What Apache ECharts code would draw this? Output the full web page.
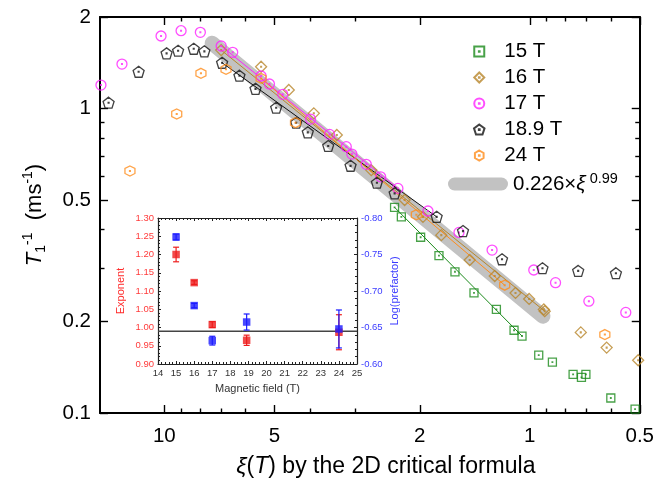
<!DOCTYPE html>
<html><head><meta charset="utf-8">
<script src="https://cdn.jsdelivr.net/npm/echarts@6/dist/echarts.min.js"></script>
<style>html,body{margin:0;padding:0;background:#fff}#c{width:657px;height:483px}</style>
</head><body><div id="c"></div>
<script>
// ---- Main plot data: xi(T) vs 1/T1 (ms^-1) ----
const xi15 = [2.344,2.246,1.989,1.772,1.602,1.421,1.234,1.104,1.050,0.945,0.867,0.761,0.722,0.702,0.600,0.515];
const t15  = [0.474,0.441,0.378,0.329,0.291,0.248,0.219,0.187,0.179,0.155,0.147,0.134,0.131,0.134,0.112,0.103];
const xi16 = [6.99,5.435,4.565,3.899,3.373,2.715,2.200,1.960,1.746,1.460,1.247,1.094,1.004,0.915,0.910,0.725,0.616,0.505];
const t16  = [1.557,1.373,1.151,0.965,0.819,0.628,0.501,0.441,0.384,0.318,0.282,0.248,0.237,0.219,0.216,0.184,0.164,0.149];
const xi17 = [14.91,13.06,10.21,9.00,7.97,6.99,6.50,5.435,5.157,4.742,3.981,3.531,3.178,3.068,2.802,2.559,2.295,1.899,1.562,1.268,0.975,0.850,0.689,0.546];
const t17  = [1.195,1.401,1.732,1.803,1.781,1.606,1.531,1.280,1.205,1.114,0.924,0.823,0.750,0.709,0.656,0.597,0.547,0.461,0.392,0.343,0.295,0.268,0.233,0.214];
const xi189 = [14.21,11.76,9.86,9.17,8.31,7.77,6.95,6.23,5.63,4.943,4.357,4.050,3.561,3.093,2.620,2.343,1.798,1.523,1.191,0.923,0.737,0.581];
const t189  = [1.046,1.322,1.519,1.550,1.573,1.543,1.415,1.283,1.162,1.007,0.899,0.836,0.754,0.649,0.571,0.527,0.441,0.396,0.320,0.299,0.293,0.288];
const xi24 = [12.42,9.25,7.94,6.78,5.435,4.376,2.043,1.171,0.623];
const t24  = [0.624,0.960,1.306,1.346,1.257,0.899,0.448,0.263,0.181];

// fit lines (end points)
const fit15X = [2.344,1.050],  fit15Y = [0.474,0.179];
const fit16X = [6.99,0.910],   fit16Y = [1.557,0.216];
const fit17X = [6.99,2.295],   fit17Y = [1.606,0.547];
const fit189X = [6.95,1.798],  fit189Y = [1.415,0.441];
const fit24X = [5.435,1.171],  fit24Y = [1.257,0.263];
// grey power-law band 0.226*xi^0.99 (end points)
const bandX = [7.4,0.92], bandY = [1.64,0.208];

// tick values
const xMajor = [0.5,1,2,5,10];
const xMinor = [0.6,0.7,0.8,0.9,3,4,6,7,8,9];
const yMajor = [0.1,0.2,0.5,1,2];
const yMinor = [0.3,0.4,0.6,0.7,0.8,0.9];

// ---- Inset data ----
const fields = [15,16,17,18.9,24];
const expo = [1.200,1.123,1.008,0.965,0.987];
const expoErr = [0.020,0.005,0.008,0.014,0.048];
const pref = [-0.774,-0.680,-0.632,-0.6575,-0.648];
const prefErr = [0.004,0.003,0.006,0.011,0.026];
const expoRef = 0.99;

const FF = '"Liberation Sans", Arial, Helvetica, sans-serif';
const L = Math.log10;
const pts = (xs, ys) => xs.map((x, i) => [L(x), L(ys[i])]);
const fmtLog = v => String(+Math.pow(10, v).toPrecision(3));

const dot = ' M-0.07,-0.07L0.07,-0.07L0.07,0.07L-0.07,0.07Z';
const SYM = {
  sq:  'path://M-1,-1L1,-1L1,1L-1,1Z' + dot,
  dia: 'path://M0,-1L1,0L0,1L-1,0Z' + dot,
  cir: 'path://M1,0A1,1 0 1 1 -1,0A1,1 0 1 1 1,0Z' + dot,
  pen: 'path://M0,-1L0.951,-0.309L0.588,0.809L-0.588,0.809L-0.951,-0.309Z M-0.07,-0.16L0.07,-0.16L0.07,-0.02L-0.07,-0.02Z',
  hex: 'path://M0,-1L0.866,-0.5L0.866,0.5L0,1L-0.866,0.5L-0.866,-0.5Z' + dot
};
const C15 = '#1a8a1a', C16 = '#b8862a', C17 = '#ff22ff', C189 = '#111111', C24 = '#ff8c1a';

function scat(name, xs, ys, sym, col, size) {
  return { name, type: 'scatter', xAxisIndex: 0, yAxisIndex: 0, z: 4,
    data: pts(xs, ys), symbol: sym, symbolSize: size,
    itemStyle: { color: 'rgba(0,0,0,0)', borderColor: col, borderWidth: 1.3 },
    emphasis: { disabled: true } };
}
function fitLine(xs, ys, col) {
  return { type: 'line', xAxisIndex: 0, yAxisIndex: 0, z: 3, data: pts(xs, ys),
    symbol: 'none', lineStyle: { color: col, width: 1 }, silent: true };
}
function errSeries(xs, ys, es, yIdx, col, z) {
  return { type: 'custom', xAxisIndex: 4, yAxisIndex: yIdx, z,
    data: xs.map((x, i) => [x, ys[i] - es[i], ys[i] + es[i]]),
    renderItem: (params, api) => {
      const a = api.coord([api.value(0), api.value(1)]);
      const b = api.coord([api.value(0), api.value(2)]);
      const w = 3;
      const st = { stroke: col, lineWidth: 1.2 };
      return { type: 'group', children: [
        { type: 'line', shape: { x1: a[0], y1: a[1], x2: b[0], y2: b[1] }, style: st },
        { type: 'line', shape: { x1: a[0]-w, y1: a[1], x2: a[0]+w, y2: a[1] }, style: st },
        { type: 'line', shape: { x1: b[0]-w, y1: b[1], x2: b[0]+w, y2: b[1] }, style: st }
      ]};
    } };
}

const tickStyle = { color: '#000', width: 1.4 };
const frame = { show: true, onZero: false, lineStyle: { color: '#000', width: 2 } };
const noLine = { show: false, onZero: false };
function mainX(pos, vals, len, labels, line) {
  return { type: 'value', gridIndex: 0, position: pos, inverse: true,
    min: L(0.5), max: L(15), splitLine: { show: false },
    axisLine: line ? frame : noLine,
    axisTick: { show: true, inside: true, length: len, lineStyle: tickStyle, customValues: vals.map(L) },
    axisLabel: labels ? { show: true, customValues: vals.map(L), formatter: fmtLog, fontSize: 20.5, color: '#000', fontFamily: FF, margin: 13 } : { show: false } };
}
function mainY(pos, vals, len, labels, line) {
  return { type: 'value', gridIndex: 0, position: pos,
    min: L(0.1), max: L(2), splitLine: { show: false },
    axisLine: line ? frame : noLine,
    axisTick: { show: true, inside: true, length: len, lineStyle: tickStyle, customValues: vals.map(L) },
    axisLabel: labels ? { show: true, customValues: vals.map(L), formatter: fmtLog, fontSize: 20.5, color: '#000', fontFamily: FF, margin: 9 } : { show: false } };
}
const insetLine = { show: true, onZero: false, lineStyle: { color: '#222', width: 1.2 } };

const xAxes = [
  Object.assign(mainX('bottom', xMajor, 8, true, true), {
    name: '{i|ξ}{n|(}{i|T}{n|) by the 2D critical formula}', nameLocation: 'middle', nameGap: 42,
    nameTextStyle: { padding: [0, 0, 0, 32], rich: {
      i: { fontSize: 23, fontStyle: 'italic', fontFamily: FF },
      n: { fontSize: 23, fontFamily: FF }
    } } }),
  mainX('bottom', xMinor, 4.5, false, false),
  mainX('top', xMajor, 8, false, true),
  mainX('top', xMinor, 4.5, false, false),
  { type: 'value', gridIndex: 1, position: 'bottom', min: 14, max: 25, interval: 1,
    name: 'Magnetic field (T)', nameLocation: 'middle', nameGap: 19,
    nameTextStyle: { fontSize: 11, color: '#333', fontFamily: FF },
    axisLine: insetLine,
    axisTick: { inside: true, length: 3, lineStyle: { color: '#222' } },
    minorTick: { show: true, splitNumber: 5, length: 2, lineStyle: { color: '#222' } },
    axisLabel: { fontSize: 9.5, color: '#333', fontFamily: FF, margin: 4 },
    splitLine: { show: false } },
  { type: 'value', gridIndex: 1, position: 'top', min: 14, max: 25, interval: 1,
    axisLine: insetLine,
    axisTick: { inside: true, length: 3, lineStyle: { color: '#222' } },
    minorTick: { show: true, splitNumber: 5, length: 2, lineStyle: { color: '#222' } },
    axisLabel: { show: false }, splitLine: { show: false } }
];

const yAxes = [
  Object.assign(mainY('left', yMajor, 8, true, true), {
    name: '{t|T}{sub|1}{sup|-1}{n|  (ms}{sup|-1}{n|)}', nameLocation: 'middle', nameGap: 52,
    nameTextStyle: { fontFamily: FF, color: '#000', rich: {
      t: { fontSize: 22, fontStyle: 'italic', lineHeight: 27, fontFamily: FF },
      n: { fontSize: 22, lineHeight: 27, fontFamily: FF },
      sub: { fontSize: 14, lineHeight: 14, verticalAlign: 'bottom', fontFamily: FF },
      sup: { fontSize: 14, lineHeight: 14, verticalAlign: 'top', fontFamily: FF }
    } } }),
  mainY('left', yMinor, 4.5, false, false),
  mainY('right', yMajor, 8, false, true),
  mainY('right', yMinor, 4.5, false, false),
  { type: 'value', gridIndex: 1, position: 'left', min: 0.9, max: 1.3, interval: 0.05,
    name: 'Exponent', nameLocation: 'middle', nameGap: 32,
    nameTextStyle: { fontSize: 11, color: '#ff2a2a', fontFamily: FF },
    axisLine: insetLine,
    axisTick: { inside: true, length: 3, lineStyle: { color: '#222' } },
    minorTick: { show: true, splitNumber: 5, length: 2, lineStyle: { color: '#222' } },
    axisLabel: { fontSize: 9.5, color: '#ff3a3a', fontFamily: FF, margin: 4, formatter: v => v.toFixed(2) },
    splitLine: { show: false } },
  { type: 'value', gridIndex: 1, position: 'right', min: -0.8, max: -0.6, interval: 0.05, inverse: true,
    name: 'Log(prefactor)', nameLocation: 'middle', nameGap: 32, nameRotate: 90,
    nameTextStyle: { fontSize: 11, color: '#3a3aff', fontFamily: FF },
    axisLine: insetLine,
    axisTick: { inside: true, length: 3, lineStyle: { color: '#222' } },
    minorTick: { show: true, splitNumber: 5, length: 2, lineStyle: { color: '#222' } },
    axisLabel: { fontSize: 9.5, color: '#3a3aff', fontFamily: FF, margin: 4, formatter: v => v.toFixed(2) },
    splitLine: { show: false } }
];

const series = [
  { name: 'band', type: 'line', xAxisIndex: 0, yAxisIndex: 0, z: 1, data: pts(bandX, bandY),
    symbol: 'none', lineStyle: { color: '#c2c2c2', width: 15, cap: 'round' }, itemStyle: { color: '#c2c2c2' }, silent: true },
  fitLine(fit15X, fit15Y, C15), fitLine(fit16X, fit16Y, C16), fitLine(fit17X, fit17Y, C17),
  fitLine(fit189X, fit189Y, C189), fitLine(fit24X, fit24Y, C24),
  scat('15 T', xi15, t15, SYM.sq, C15, 8),
  scat('16 T', xi16, t16, SYM.dia, C16, 11),
  scat('17 T', xi17, t17, SYM.cir, C17, 10),
  scat('18.9 T', xi189, t189, SYM.pen, C189, 11),
  scat('24 T', xi24, t24, SYM.hex, C24, 10),
  // inset
  { type: 'line', xAxisIndex: 4, yAxisIndex: 4, z: 2, data: [[14, expoRef], [25, expoRef]],
    symbol: 'none', lineStyle: { color: '#444', width: 1.5 }, silent: true },
  errSeries(fields, expo, expoErr, 4, '#ee1c1c', 3),
  { type: 'scatter', xAxisIndex: 4, yAxisIndex: 4, z: 4, data: fields.map((f, i) => [f, expo[i]]),
    symbol: 'rect', symbolSize: 7.5, itemStyle: { color: '#ee1c1c' } },
  errSeries(fields, pref, prefErr, 5, '#1a1aff', 5),
  { type: 'scatter', xAxisIndex: 4, yAxisIndex: 5, z: 6, data: fields.map((f, i) => [f, pref[i]]),
    symbol: 'rect', symbolSize: 7.5, itemStyle: { color: '#1a1aff' } }
];

const chart = echarts.init(document.getElementById('c'), null, { renderer: 'canvas' });
chart.setOption({
  animation: false,
  backgroundColor: '#fff',
  grid: [
    { left: 100, top: 17, right: 17, bottom: 69 },
    { left: 158, top: 218, width: 199, height: 146, show: true, backgroundColor: '#fff', borderWidth: 0 }
  ],
  xAxis: xAxes,
  yAxis: yAxes,
  legend: [
    { orient: 'vertical', left: 468, top: 36, itemWidth: 40, itemHeight: 10, itemGap: 5,
      selectedMode: false,
      textStyle: { fontSize: 20.5, color: '#000', fontFamily: FF },
      data: [
        { name: '15 T', icon: SYM.sq }, { name: '16 T', icon: SYM.dia }, { name: '17 T', icon: SYM.cir },
        { name: '18.9 T', icon: SYM.pen }, { name: '24 T', icon: SYM.hex }
      ] },
    { orient: 'vertical', left: 443, top: 166, itemWidth: 60, itemHeight: 13, selectedMode: false,
      data: [{ name: 'band', icon: 'path://M6.5,0L53.5,0A6.5,6.5 0 0 1 53.5,13L6.5,13A6.5,6.5 0 0 1 6.5,0Z' }],
      formatter: () => '{a|0.226×}{i|ξ}{s| 0.99}',
      textStyle: { fontFamily: FF, color: '#000', rich: {
        a: { fontSize: 20.5, lineHeight: 26, fontFamily: FF },
        i: { fontSize: 21, lineHeight: 26, fontStyle: 'italic', fontFamily: FF },
        s: { fontSize: 14.5, lineHeight: 14, verticalAlign: 'top', fontFamily: FF }
      } } }
  ],
  series
});
</script></body></html>
